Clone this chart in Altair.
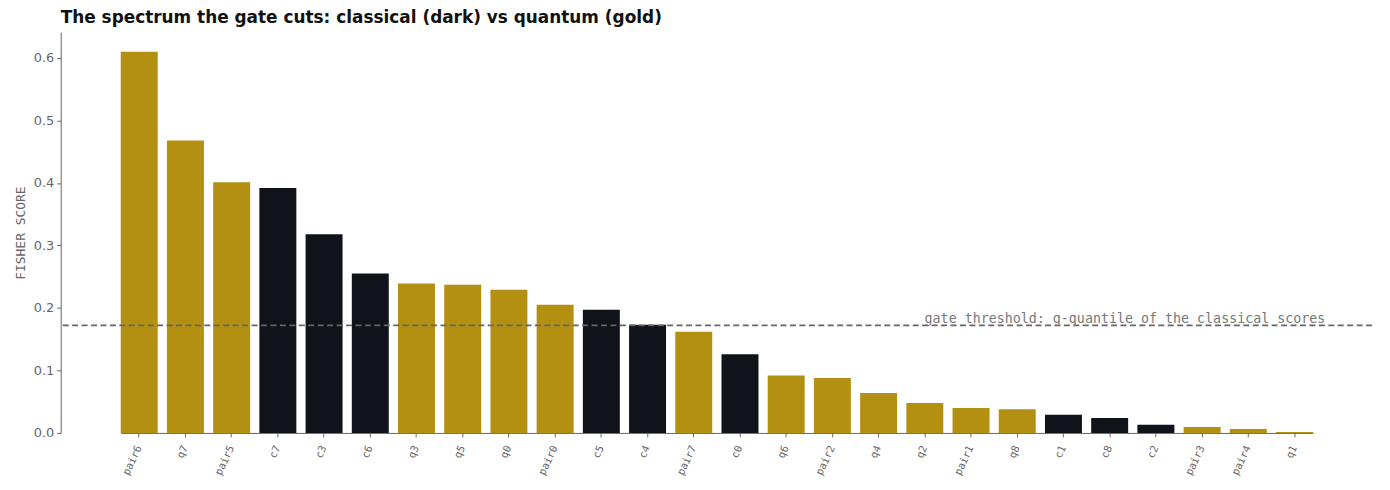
import altair as alt
import pandas as pd

features = ["pair6", "q7", "pair5", "c7", "c3", "c6", "q3", "q5", "q0", "pair0",
            "c5", "c4", "pair7", "c0", "q6", "pair2", "q4", "q2", "pair1", "q8",
            "c1", "c8", "c2", "pair3", "pair4", "q1"]
scores = [0.610, 0.468, 0.401, 0.392, 0.318, 0.255, 0.239, 0.237, 0.229, 0.205,
          0.197, 0.173, 0.162, 0.126, 0.092, 0.088, 0.064, 0.048, 0.040, 0.038,
          0.029, 0.024, 0.013, 0.0095, 0.0064, 0.0016]
kinds = ["quantum" if not f.startswith("c") else "classical" for f in features]
threshold = 0.172
threshold_label = "gate threshold: q-quantile of the classical scores"

GOLD = "#B38F12"
DARK = "#10131A"

df = pd.DataFrame({"feature": features, "score": scores, "kind": kinds})
thr = pd.DataFrame({"y": [threshold], "feature": ["q1"], "label": [threshold_label]})

x_scale = alt.Scale(domain=features, range=[60.4, 1259.6],
                    paddingInner=0.2, paddingOuter=0)
x_enc = alt.X("feature:N", sort=features, scale=x_scale,
              axis=alt.Axis(title=None, labelAngle=-65, labelAlign="right",
                            labelBaseline="middle", labelFont="DejaVu Sans Mono",
                            labelFontSize=10.5, labelColor="#666666",
                            labelPadding=9, tickSize=4, tickColor="#666666",
                            domainColor="#666666", grid=False))
y_scale = alt.Scale(domain=[0, 0.641], nice=False, zero=True)

bars = alt.Chart(df).mark_bar().encode(
    x=x_enc,
    y=alt.Y("score:Q", scale=y_scale,
            axis=alt.Axis(title="FISHER SCORE", values=[0, 0.1, 0.2, 0.3, 0.4, 0.5, 0.6],
                          format=".1f", labelFont="DejaVu Sans", labelFontSize=13,
                          labelColor="#666666", labelPadding=3, tickSize=4,
                          tickColor="#666666", domainColor="#666666", grid=False,
                          titleFont="DejaVu Sans Mono", titleFontSize=13,
                          titleFontWeight="normal", titleColor="#666666",
                          titlePadding=6)),
    color=alt.Color("kind:N", scale=alt.Scale(domain=["classical", "quantum"],
                                              range=[DARK, GOLD]), legend=None),
)

rule = alt.Chart(thr).mark_rule(color="#666666", strokeWidth=1.6,
                                strokeDash=[6, 3.5]).encode(
    y=alt.Y("y:Q", scale=y_scale)
)

label = alt.Chart(thr).mark_text(align="right", baseline="alphabetic",
                                 font="DejaVu Sans Mono", fontSize=13.4,
                                 color="#777777", dx=31, dy=-2).encode(
    x=alt.X("feature:N", sort=features, scale=x_scale),
    y=alt.Y("y:Q", scale=y_scale),
    text="label:N",
)

chart = alt.layer(bars, rule, label).properties(
    width=1319, height=403,
    background="white",
    title=alt.TitleParams("The spectrum the gate cuts: classical (dark) vs quantum (gold)",
                          anchor="start", frame="group", font="DejaVu Sans",
                          fontSize=17, fontWeight="bold", color="#111111", offset=5),
    autosize=alt.AutoSizeParams(type="none"),
    padding={"left": 53, "top": 23, "right": 10, "bottom": 55},
).configure_view(stroke=None)

chart.save("out.html", embed_options={"renderer": "svg", "actions": False})
